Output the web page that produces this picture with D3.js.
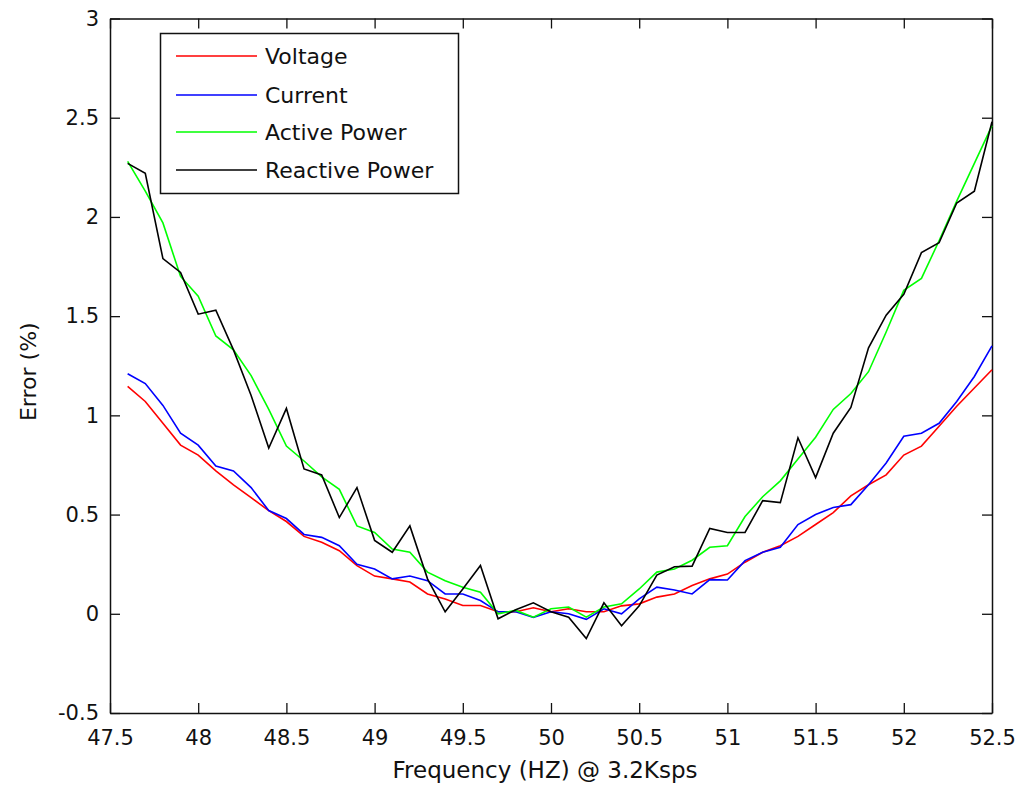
<!DOCTYPE html>
<html>
<head>
<meta charset="utf-8">
<script src="https://cdn.jsdelivr.net/npm/d3@7"></script>
<style>
  body { margin: 0; background: #fff; }
  svg text { font-family: "DejaVu Sans", sans-serif; fill: #111; }
</style>
</head>
<body>
<script>
const width = 1029
const height = 786
const margins = { top: 18.5, right: 37, bottom: 73, left: 110 }

const frequency = [
  47.6, 47.7, 47.8, 47.9, 48.0, 48.1, 48.2, 48.3, 48.4, 48.5,
  48.6, 48.7, 48.8, 48.9, 49.0, 49.1, 49.2, 49.3, 49.4, 49.5,
  49.6, 49.7, 49.8, 49.9, 50.0, 50.1, 50.2, 50.3, 50.4, 50.5,
  50.6, 50.7, 50.8, 50.9, 51.0, 51.1, 51.2, 51.3, 51.4, 51.5,
  51.6, 51.7, 51.8, 51.9, 52.0, 52.1, 52.2, 52.3, 52.4, 52.5
]
const voltage = [
  1.146, 1.07, 0.96, 0.85, 0.80, 0.72, 0.65, 0.585, 0.52, 0.465,
  0.39, 0.36, 0.318, 0.243, 0.19, 0.176, 0.16, 0.10, 0.075, 0.042,
  0.042, 0.01, 0.01, 0.03, 0.01, 0.025, 0.01, 0.01, 0.04, 0.05,
  0.084, 0.10, 0.142, 0.176, 0.20, 0.26, 0.31, 0.343, 0.39, 0.45,
  0.51, 0.594, 0.65, 0.70, 0.80, 0.845, 0.945, 1.046, 1.138, 1.23
]
const current = [
  1.21, 1.16, 1.05, 0.91, 0.85, 0.745, 0.72, 0.636, 0.52, 0.48,
  0.40, 0.385, 0.343, 0.25, 0.226, 0.176, 0.19, 0.167, 0.10, 0.10,
  0.067, 0.01, 0.01, -0.018, 0.01, 0.0, -0.028, 0.025, 0.0, 0.075,
  0.134, 0.12, 0.10, 0.172, 0.17, 0.268, 0.31, 0.335, 0.45, 0.50,
  0.536, 0.55, 0.65, 0.76, 0.895, 0.91, 0.96, 1.07, 1.196, 1.35
]
const activePower = [
  2.28, 2.13, 1.97, 1.70, 1.60, 1.40, 1.33, 1.20, 1.03, 0.845,
  0.77, 0.69, 0.627, 0.443, 0.41, 0.326, 0.31, 0.21, 0.167, 0.134,
  0.109, 0.0, 0.017, -0.017, 0.025, 0.034, -0.017, 0.034, 0.05, 0.125,
  0.21, 0.226, 0.27, 0.335, 0.343, 0.49, 0.59, 0.67, 0.78, 0.89,
  1.03, 1.11, 1.22, 1.42, 1.63, 1.69, 1.88, 2.08, 2.27, 2.46
]
const reactivePower = [
  2.27, 2.22, 1.79, 1.72, 1.51, 1.53, 1.33, 1.10, 0.835, 1.035,
  0.73, 0.70, 0.485, 0.636, 0.37, 0.31, 0.443, 0.176, 0.01, 0.125,
  0.243, -0.025, 0.02, 0.055, 0.01, -0.017, -0.125, 0.055, -0.06, 0.04,
  0.195, 0.237, 0.24, 0.43, 0.41, 0.41, 0.57, 0.56, 0.887, 0.686,
  0.91, 1.04, 1.34, 1.505, 1.61, 1.82, 1.87, 2.07, 2.13, 2.48
]
const seriesNames = ['Voltage', 'Current', 'Active Power', 'Reactive Power']
const seriesColors = ['#ff0000', '#0000ff', '#00ff00', '#000000']
const xTicks = [47.5, 48, 48.5, 49, 49.5, 50, 50.5, 51, 51.5, 52, 52.5]
const yTicks = [-0.5, 0, 0.5, 1, 1.5, 2, 2.5, 3]

const series = [voltage, current, activePower, reactivePower].map((values, i) => ({
  name: seriesNames[i],
  color: seriesColors[i],
  points: values.map((v, j) => ({ f: frequency[j], v: v }))
}))

const svg = d3.select('body').append('svg')
  .attr('width', width)
  .attr('height', height)

const xScale = d3.scaleLinear()
  .domain([47.5, 52.5])
  .range([margins.left, width - margins.right])
const yScale = d3.scaleLinear()
  .domain([-0.5, 3])
  .range([height - margins.bottom, margins.top])

const fmt = d => String(d)

// axes, matlab style: ticks pointing in on all four sides
svg.append('g')
  .attr('transform', `translate(0,${height - margins.bottom})`)
  .call(d3.axisBottom(xScale).tickValues(xTicks).tickFormat(fmt).tickSize(-10).tickSizeOuter(0).tickPadding(17))
svg.append('g')
  .attr('transform', `translate(${margins.left},0)`)
  .call(d3.axisLeft(yScale).tickValues(yTicks).tickFormat(fmt).tickSize(-10).tickSizeOuter(0).tickPadding(11))
svg.append('g')
  .attr('transform', `translate(0,${margins.top})`)
  .call(d3.axisTop(xScale).tickValues(xTicks).tickFormat('').tickSize(-10).tickSizeOuter(0))
svg.append('g')
  .attr('transform', `translate(${width - margins.right},0)`)
  .call(d3.axisRight(yScale).tickValues(yTicks).tickFormat('').tickSize(-10).tickSizeOuter(0))

svg.selectAll('.domain').attr('stroke', '#111').attr('stroke-width', 1.5)
svg.selectAll('.tick line').attr('stroke', '#111').attr('stroke-width', 1.3)
svg.selectAll('.tick text').attr('font-size', 21).attr('fill', '#111')
  .attr('font-family', '"DejaVu Sans", sans-serif')

const line = d3.line()
  .x(d => xScale(d.f))
  .y(d => yScale(d.v))

svg.selectAll('path.series')
  .data(series)
  .enter()
  .append('path')
  .attr('class', 'series')
  .attr('fill', 'none')
  .attr('stroke', d => d.color)
  .attr('stroke-width', 1.6)
  .attr('stroke-linejoin', 'miter')
  .attr('d', d => line(d.points))

// labels
svg.append('text')
  .attr('x', 545)
  .attr('y', 778)
  .attr('text-anchor', 'middle')
  .attr('font-size', 23)
  .text('Frequency (HZ) @ 3.2Ksps')

svg.append('text')
  .attr('transform', `translate(36,${yScale(1.22)}) rotate(-90)`)
  .attr('text-anchor', 'middle')
  .attr('font-size', 22)
  .text('Error (%)')

// legend
const legend = svg.append('g')
legend.append('rect')
  .attr('x', 160.5)
  .attr('y', 33.5)
  .attr('width', 298)
  .attr('height', 160)
  .attr('fill', '#fff')
  .attr('stroke', '#111')
  .attr('stroke-width', 1.5)

const rows = legend.selectAll('g.row')
  .data(series)
  .enter()
  .append('g')
  .attr('class', 'row')
  .attr('transform', (d, i) => `translate(0,${[56, 95, 132, 170][i]})`)
rows.append('line')
  .attr('x1', 176)
  .attr('x2', 257)
  .attr('stroke', d => d.color)
  .attr('stroke-width', 1.6)
rows.append('text')
  .attr('x', 265)
  .attr('dy', '0.36em')
  .attr('font-size', 22)
  .text(d => d.name)
</script>
</body>
</html>
